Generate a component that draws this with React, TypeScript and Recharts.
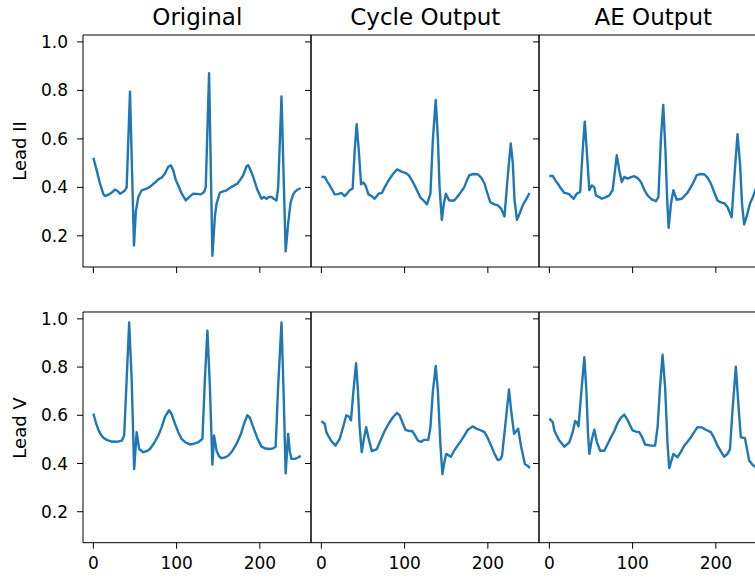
import React from 'react';
import { LineChart, Line, XAxis, YAxis, ReferenceArea } from 'recharts';

type Pt = [number, number];

// sample index, amplitude
const originalII: Pt[] = [
  [0, 0.522], [4, 0.47], [8, 0.415], [12, 0.372], [14, 0.364], [18, 0.37], [22, 0.378], [26, 0.391],
  [29, 0.385], [32, 0.374], [35, 0.38], [38, 0.388], [40, 0.4], [44, 0.795], [48.8, 0.16], [51, 0.3],
  [54, 0.36], [58, 0.388], [64, 0.395], [67, 0.4], [70, 0.408], [74, 0.42], [78, 0.433], [82, 0.44],
  [86, 0.457], [90, 0.485], [93, 0.491], [96, 0.47], [99, 0.43], [102, 0.408], [106, 0.375], [111, 0.346],
  [115, 0.36], [120, 0.374], [125, 0.373], [129, 0.371], [133, 0.381], [135, 0.4], [139, 0.871], [143, 0.118],
  [146, 0.28], [148, 0.333], [152, 0.378], [156, 0.383], [160, 0.388], [165, 0.4], [169, 0.408], [173, 0.415],
  [176, 0.429], [180, 0.45], [184, 0.487], [186, 0.491], [189, 0.47], [192, 0.443], [197, 0.39], [202, 0.353],
  [205, 0.36], [208, 0.353], [211, 0.36], [214, 0.36], [217, 0.352], [220, 0.346], [222, 0.4], [226, 0.775],
  [231, 0.136], [234, 0.25], [237, 0.339], [240, 0.37], [242, 0.381], [245, 0.39], [249, 0.397],
];

const cycleII: Pt[] = [
  [0, 0.443], [4, 0.443], [7, 0.425], [10, 0.408], [13, 0.39], [16, 0.371], [20, 0.372], [24, 0.377],
  [28, 0.364], [31, 0.375], [34, 0.388], [37.6, 0.395], [40, 0.55], [42.4, 0.661], [45, 0.55], [47.7, 0.413],
  [50.5, 0.42], [53, 0.408], [56.6, 0.371], [60, 0.365], [64, 0.353], [68.7, 0.374], [72.7, 0.377], [76, 0.4],
  [80.8, 0.429], [86, 0.455], [90.9, 0.474], [97, 0.464], [101, 0.46], [105, 0.45], [109, 0.428], [113, 0.401],
  [116, 0.38], [119, 0.358], [123, 0.345], [127, 0.33], [131, 0.374], [134, 0.6], [137.4, 0.761], [140, 0.6],
  [142, 0.4], [144.7, 0.266], [147, 0.33], [149.6, 0.374], [153.6, 0.346], [159.6, 0.346], [165.7, 0.371],
  [171.7, 0.401], [175, 0.43], [177.8, 0.45], [182, 0.455], [187.9, 0.454], [192, 0.44], [196, 0.416],
  [199, 0.38], [202.9, 0.339], [208, 0.33], [212, 0.326], [216, 0.312], [220, 0.28], [224, 0.45], [227.5, 0.581],
  [230, 0.5], [232, 0.35], [235, 0.266], [238, 0.29], [242.4, 0.33], [246, 0.35], [250, 0.377],
];

const aeII: Pt[] = [
  [0, 0.447], [4, 0.447], [7, 0.43], [10, 0.416], [14, 0.395], [18, 0.377], [21, 0.375], [24, 0.371],
  [29, 0.353], [33, 0.374], [37, 0.381], [40, 0.55], [42.5, 0.671], [45, 0.55], [48, 0.388], [51, 0.408],
  [54, 0.401], [56, 0.367], [60, 0.36], [63, 0.353], [68, 0.36], [72, 0.367], [76, 0.388], [78.5, 0.46],
  [81, 0.533], [84, 0.47], [87, 0.422], [90, 0.443], [94, 0.436], [98, 0.442], [102, 0.446], [106, 0.438],
  [110, 0.422], [114, 0.39], [118, 0.367], [123, 0.35], [128, 0.343], [131, 0.36], [134, 0.6], [136.8, 0.74],
  [139.5, 0.55], [141.5, 0.35], [143.3, 0.233], [146, 0.33], [149, 0.388], [153, 0.349], [159, 0.353],
  [166, 0.378], [172, 0.413], [177, 0.45], [181, 0.455], [186, 0.454], [190, 0.44], [194, 0.416], [198, 0.38],
  [202, 0.346], [206, 0.338], [210, 0.335], [214, 0.319], [219, 0.277], [223, 0.48], [226, 0.619], [229, 0.5],
  [231.5, 0.33], [234, 0.247], [237, 0.28], [241, 0.333], [244.5, 0.36], [248, 0.395], [250, 0.41],
];

const originalV: Pt[] = [
  [0, 0.607], [3, 0.57], [6, 0.54], [9, 0.52], [12, 0.507], [16, 0.498], [22, 0.491], [28, 0.49],
  [34, 0.495], [37, 0.516], [40, 0.75], [43, 0.985], [46, 0.75], [49, 0.377], [52, 0.53], [55, 0.46],
  [60, 0.447], [64, 0.451], [68, 0.46], [73, 0.485], [78, 0.516], [82, 0.55], [86, 0.593], [91, 0.621],
  [94, 0.605], [98, 0.565], [102, 0.53], [106, 0.502], [111, 0.487], [116, 0.479], [121, 0.482], [126, 0.488],
  [131, 0.502], [134, 0.75], [137, 0.951], [140, 0.72], [143, 0.395], [145, 0.516], [148, 0.453], [151, 0.43],
  [154, 0.422], [158, 0.425], [162, 0.432], [167, 0.452], [172, 0.481], [177, 0.52], [181, 0.565], [185, 0.6],
  [188, 0.59], [192, 0.551], [197, 0.505], [202, 0.47], [207, 0.462], [212, 0.46], [216, 0.463], [219, 0.47],
  [222, 0.72], [226, 0.985], [228.5, 0.7], [231, 0.359], [234, 0.523], [236, 0.45], [238, 0.419], [242, 0.419],
  [246, 0.425], [249, 0.432],
];

const cycleV: Pt[] = [
  [0, 0.576], [4, 0.565], [6, 0.53], [9, 0.51], [12, 0.493], [17, 0.474], [22, 0.502], [26, 0.55],
  [30, 0.6], [33, 0.595], [35.6, 0.579], [38.5, 0.7], [41.7, 0.816], [44, 0.7], [46, 0.55], [48.5, 0.447],
  [51, 0.5], [53.8, 0.551], [57, 0.5], [60.6, 0.451], [66.7, 0.46], [72.7, 0.509], [76, 0.535], [80.8, 0.565],
  [86, 0.592], [90.9, 0.61], [94, 0.6], [98, 0.565], [101, 0.54], [105, 0.535], [109, 0.535], [112, 0.52],
  [116, 0.495], [120, 0.49], [123, 0.498], [128.5, 0.498], [131, 0.55], [134, 0.7], [137.4, 0.805], [140, 0.7],
  [143, 0.48], [145.4, 0.356], [147.5, 0.4], [150, 0.44], [155.6, 0.428], [159, 0.45], [163.6, 0.474],
  [168, 0.495], [171.7, 0.516], [176, 0.54], [181.8, 0.554], [186, 0.545], [190, 0.54], [196, 0.53],
  [200, 0.505], [204, 0.474], [208, 0.44], [212, 0.414], [215, 0.418], [217, 0.432], [221, 0.56], [225.4, 0.707],
  [228, 0.62], [231.5, 0.523], [236.4, 0.544], [240, 0.47], [244.5, 0.398], [248, 0.39], [250.5, 0.381],
];

const aeV: Pt[] = [
  [0, 0.586], [4, 0.572], [6, 0.537], [9, 0.515], [12, 0.495], [18, 0.47], [24, 0.488], [28, 0.53],
  [31, 0.576], [33, 0.57], [35, 0.554], [38.5, 0.7], [42, 0.841], [44.5, 0.7], [46.5, 0.52], [48, 0.44],
  [51, 0.5], [54, 0.54], [57, 0.49], [61, 0.453], [66, 0.453], [73, 0.502], [78, 0.535], [82, 0.568],
  [86, 0.59], [90, 0.603], [94, 0.58], [100, 0.537], [104, 0.532], [108, 0.53], [112, 0.505], [115, 0.479],
  [122, 0.474], [127, 0.474], [130, 0.55], [133, 0.72], [136, 0.851], [139, 0.72], [142, 0.48], [144, 0.381],
  [146.5, 0.41], [149, 0.44], [154, 0.426], [158, 0.448], [162, 0.474], [166, 0.49], [170, 0.509], [174, 0.53],
  [178, 0.551], [183, 0.55], [188, 0.54], [194, 0.53], [198, 0.505], [202, 0.474], [206, 0.45], [210, 0.428],
  [214, 0.44], [217, 0.46], [220, 0.62], [224, 0.802], [227, 0.65], [230, 0.509], [235, 0.505], [238, 0.45],
  [240, 0.412], [244, 0.395], [248, 0.384], [250, 0.38],
];

const titles = ['Original', 'Cycle Output', 'AE Output'];
const leads = ['Lead II', 'Lead V'];
const grid: Pt[][][] = [
  [originalII, cycleII, aeII],
  [originalV, cycleV, aeV],
];
const xTicks = [0, 100, 200];
const yTicks = [0.2, 0.4, 0.6, 0.8, 1.0];

const X_DOMAIN: [number, number] = [-12.45, 261.45];
const Y_DOMAIN: [number, number] = [0.0715, 1.0285];

const colLeft = [83.3, 311.3, 539.3];
const colWidth = 228;
const rowTop = [35, 312.3];
const rowHeight = [232, 230.7];

const FONT = 'DejaVu Sans, sans-serif';
const tickStyle = { fill: '#000', fontSize: 17, fontFamily: FONT };

function Panel({ series, row, col }: { series: Pt[]; row: number; col: number }) {
  const showY = col === 0;
  const showX = row === 1;
  const yW = showY ? 70 : 10;
  const xH = showX ? 40 : 10;
  const m = { top: 4, right: 4, left: 0, bottom: 0 };
  const width = colWidth + yW + m.right;
  const height = rowHeight[row] + xH + m.top;
  const data = series.map(([x, y]) => ({ x, y }));

  return (
    <div style={{ position: 'absolute', left: colLeft[col] - yW, top: rowTop[row] - m.top }}>
      <LineChart width={width} height={height} data={data} margin={m}>
        <XAxis
          dataKey="x"
          type="number"
          domain={X_DOMAIN}
          ticks={xTicks}
          interval={0}
          allowDataOverflow
          axisLine={false}
          tickLine={{ stroke: '#000' }}
          tickSize={6}
          tickMargin={8}
          tick={tickStyle}
          tickFormatter={(v: number) => (showX ? String(v) : '')}
          height={xH}
        />
        <YAxis
          type="number"
          domain={Y_DOMAIN}
          ticks={yTicks}
          interval={0}
          allowDataOverflow
          axisLine={false}
          tickLine={{ stroke: '#000' }}
          tickSize={6}
          tickMargin={9}
          tick={tickStyle}
          tickFormatter={(v: number) => (showY ? v.toFixed(1) : '')}
          width={yW}
        />
        <ReferenceArea
          x1={X_DOMAIN[0]}
          x2={X_DOMAIN[1]}
          y1={Y_DOMAIN[0]}
          y2={Y_DOMAIN[1]}
          fill="none"
          stroke="#000"
          strokeWidth={1}
          ifOverflow="visible"
        />
        <Line
          dataKey="y"
          type="linear"
          stroke="#1f77b4"
          strokeWidth={2.4}
          strokeLinejoin="round"
          dot={false}
          isAnimationActive={false}
        />
      </LineChart>
    </div>
  );
}

export default function App() {
  return (
    <div
      style={{
        position: 'absolute',
        left: 0,
        top: 0,
        width: 755,
        height: 579,
        overflow: 'hidden',
        background: '#fff',
        fontFamily: FONT,
      }}
    >
      {titles.map((t, c) => (
        <div
          key={t}
          style={{
            position: 'absolute',
            left: colLeft[c] + colWidth / 2 - 120,
            width: 240,
            top: 5,
            textAlign: 'center',
            fontSize: 23,
            lineHeight: '24px',
            color: '#000',
          }}
        >
          {t}
        </div>
      ))}
      {leads.map((l, r) => (
        <div
          key={l}
          style={{
            position: 'absolute',
            left: 20 - 60,
            top: rowTop[r] + rowHeight[r] / 2 - 10,
            width: 120,
            height: 20,
            lineHeight: '20px',
            textAlign: 'center',
            fontSize: 18,
            color: '#000',
            transform: 'rotate(-90deg)',
          }}
        >
          {l}
        </div>
      ))}
      {grid.map((rowSeries, r) =>
        rowSeries.map((s, c) => <Panel key={`${r}-${c}`} series={s} row={r} col={c} />)
      )}
    </div>
  );
}
